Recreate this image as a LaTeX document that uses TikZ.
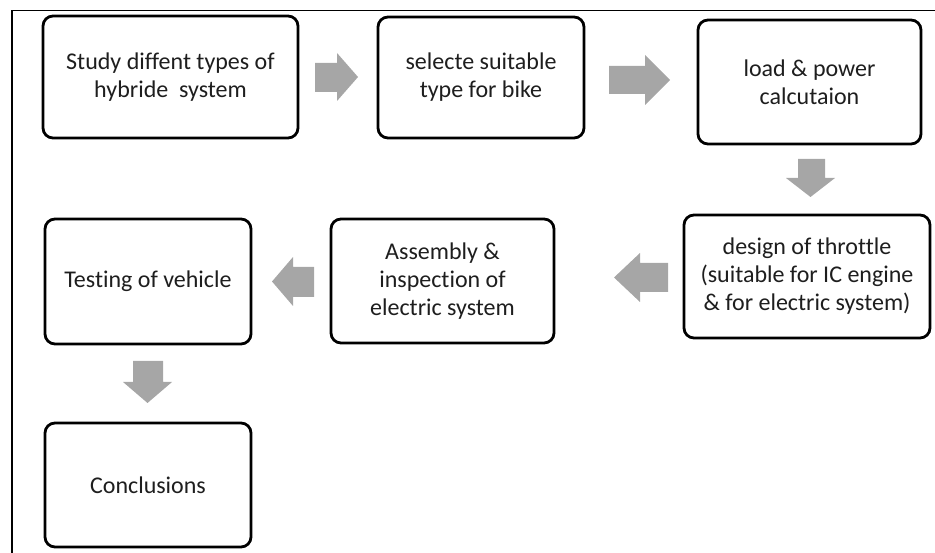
\documentclass[tikz,border=0pt]{standalone}
\usepackage{fontspec}
\setmainfont[Ligatures=NoCommon]{Carlito}
\definecolor{arrowgray}{HTML}{A6A6A6}
\definecolor{txt}{HTML}{1E1E1E}
\begin{document}
\begin{tikzpicture}[x=1pt,y=-1pt,
  box/.style={draw=black, line width=2.8pt, rounded corners=10pt, fill=white,
    align=center, text=txt, font=\fontsize{24}{28}\selectfont, inner sep=0pt},
  blockarrow/.style={fill=arrowgray, draw=none},
  frame/.style={draw=black, line width=1.8pt}]
\useasboundingbox (0,0) rectangle (935,553);
% frame
\draw[frame] (935,10.5) -- (12,10.5) -- (12,553);
% boxes
\node[box, minimum width=255pt, minimum height=122pt] (b1) at (170.5,77) {Study diffent types of\\hybride\ \ system};
\node[box, minimum width=206pt, minimum height=121pt] (b2) at (481,77.5) {selecte suitable\\type for bike};
\node[box, minimum width=223pt, minimum height=124pt] (b3) at (809.5,82) {load \& power\\calcutaion};
\node[box, minimum width=246pt, minimum height=123pt] (b4) at (807,276.5) {design of throttle\\(suitable for IC engine\\\& for electric system)};
\node[box, minimum width=223pt, minimum height=124pt] (b5) at (442.5,281) {Assembly \&\\inspection of\\electric system};
\node[box, minimum width=206pt, minimum height=125pt] (b6) at (148,281.5) {Testing of vehicle};
\node[box, minimum width=206pt, minimum height=124pt] (b7) at (148,485) {Conclusions};
% block arrows
\fill[blockarrow] (315,63) -- (337,63) -- (337,53) -- (358,77) -- (337,101) -- (337,92) -- (315,92) -- cycle;
\fill[blockarrow] (609,66) -- (645,66) -- (645,55) -- (670,80) -- (645,105) -- (645,94) -- (609,94) -- cycle;
\fill[blockarrow] (798,159) -- (825,159) -- (825,178) -- (835,178) -- (810.5,197) -- (786,178) -- (798,178) -- cycle;
\fill[blockarrow] (668,263) -- (640,263) -- (640,253) -- (614,277.5) -- (640,302) -- (640,292) -- (668,292) -- cycle;
\fill[blockarrow] (314,267) -- (293,267) -- (293,257) -- (272,281.5) -- (293,306) -- (293,297) -- (314,297) -- cycle;
\fill[blockarrow] (133,361) -- (163,361) -- (163,382) -- (172,382) -- (147.5,403) -- (123,382) -- (133,382) -- cycle;
\end{tikzpicture}
\end{document}
